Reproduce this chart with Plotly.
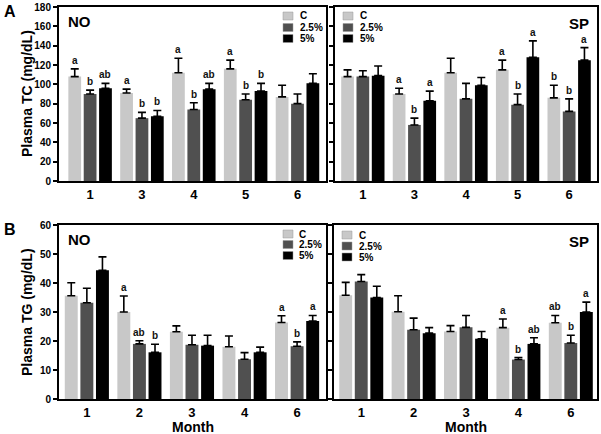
import plotly.graph_objects as go

W, H = 601, 434

# ---------------- data ----------------
groups = ["C", "2.5%", "5%"]
colors = ["#c8c8c8", "#505050", "#000000"]

months_tc = ["1", "3", "4", "5", "6"]
months_tg = ["1", "2", "3", "4", "6"]

# Plasma TC, NO
tc_no_c = [108, 91, 112, 116, 87]
tc_no_25 = [90, 65, 74, 84, 80]
tc_no_5 = [96, 67, 95, 93, 101]
tc_no_c_err = [8, 4, 15, 9, 12]
tc_no_25_err = [4, 6, 7, 6, 10]
tc_no_5_err = [5, 6, 6, 8, 10]
tc_no_c_let = ["a", "a", "a", "a", ""]
tc_no_25_let = ["b", "b", "b", "b", ""]
tc_no_5_let = ["ab", "b", "ab", "b", ""]

# Plasma TC, SP
tc_sp_c = [108, 90, 112, 115, 86]
tc_sp_25 = [108, 58, 85, 79, 72]
tc_sp_5 = [109, 83, 99, 128, 125]
tc_sp_c_err = [7, 6, 15, 10, 13]
tc_sp_25_err = [6, 7, 16, 11, 13]
tc_sp_5_err = [10, 10, 8, 17, 13]
tc_sp_c_let = ["", "a", "", "a", "b"]
tc_sp_25_let = ["", "b", "", "b", "b"]
tc_sp_5_let = ["", "a", "", "a", "a"]

# Plasma TG, NO
tg_no_c = [35.6, 30.0, 23.2, 18.0, 26.4]
tg_no_25 = [33.2, 19.0, 18.7, 13.7, 18.2]
tg_no_5 = [44.4, 16.1, 18.4, 16.1, 26.9]
tg_no_c_err = [4.5, 5.5, 2.0, 3.7, 2.3]
tg_no_25_err = [5.0, 1.1, 3.3, 2.3, 1.5]
tg_no_5_err = [4.6, 2.8, 3.6, 1.8, 1.9]
tg_no_c_let = ["", "a", "", "", "a"]
tg_no_25_let = ["", "ab", "", "", "b"]
tg_no_5_let = ["", "b", "", "", "a"]

# Plasma TG, SP
tg_sp_c = [35.8, 30.1, 23.3, 24.6, 26.3]
tg_sp_25 = [40.5, 23.9, 24.7, 13.6, 19.3]
tg_sp_5 = [35.0, 22.7, 20.8, 19.0, 30.0]
tg_sp_c_err = [4.4, 5.5, 2.0, 3.0, 2.5]
tg_sp_25_err = [2.4, 4.0, 4.1, 0.7, 2.7]
tg_sp_5_err = [3.9, 1.9, 2.5, 2.1, 3.4]
tg_sp_c_let = ["", "", "", "a", "ab"]
tg_sp_25_let = ["", "", "", "b", "b"]
tg_sp_5_let = ["", "", "", "ab", "a"]

FONT = "Arial, Liberation Sans, sans-serif"
BARGAP = 0.11
BARGROUPGAP = 0.17


def px(x):
    return x / W


def py(y):
    return 1 - y / H


panels = [
    dict(ax="", months=months_tc,
         vals=[tc_no_c, tc_no_25, tc_no_5], errs=[tc_no_c_err, tc_no_25_err, tc_no_5_err],
         lets=[tc_no_c_let, tc_no_25_let, tc_no_5_let], ymax=180, dtick=20,
         xd=(59, 326), yd=(7, 181), xr=[-0.6, 4.55], name="NO", showy=True,
         ytitle="Plasma TC (mg/dL)", xtitle="",
         leg=dict(bx=283, tx=298, ys=[16, 27.5, 38.5])),
    dict(ax="2", months=months_tc,
         vals=[tc_sp_c, tc_sp_25, tc_sp_5], errs=[tc_sp_c_err, tc_sp_25_err, tc_sp_5_err],
         lets=[tc_sp_c_let, tc_sp_25_let, tc_sp_5_let], ymax=180, dtick=20,
         xd=(335, 597), yd=(7, 181), xr=[-0.54, 4.54], name="SP", showy=False,
         ytitle="", xtitle="",
         leg=dict(bx=343, tx=358, ys=[16, 27.5, 38.5])),
    dict(ax="3", months=months_tg,
         vals=[tg_no_c, tg_no_25, tg_no_5], errs=[tg_no_c_err, tg_no_25_err, tg_no_5_err],
         lets=[tg_no_c_let, tg_no_25_let, tg_no_5_let], ymax=60, dtick=10,
         xd=(59, 326), yd=(225, 399), xr=[-0.53, 4.55], name="NO", showy=True,
         ytitle="Plasma TG (mg/dL)", xtitle="Month",
         leg=dict(bx=283, tx=297, ys=[234, 244.5, 255.5])),
    dict(ax="4", months=months_tg,
         vals=[tg_sp_c, tg_sp_25, tg_sp_5], errs=[tg_sp_c_err, tg_sp_25_err, tg_sp_5_err],
         lets=[tg_sp_c_let, tg_sp_25_let, tg_sp_5_let], ymax=60, dtick=10,
         xd=(334, 597), yd=(225, 399), xr=[-0.52, 4.5], name="SP", showy=False,
         ytitle="", xtitle="Month",
         leg=dict(bx=342, tx=357, ys=[235, 246, 257])),
]

fig = go.Figure()
annotations = []
shapes = []
layout = {}
slot = (1 - BARGAP) / 3

for p in panels:
    a = p["ax"]
    xs = list(range(len(p["months"])))
    for gi, g in enumerate(groups):
        fig.add_trace(go.Bar(
            x=xs, y=p["vals"][gi], name=g, showlegend=False,
            marker=dict(color=colors[gi], line=dict(width=0)),
            error_y=dict(type="data", symmetric=False, array=p["errs"][gi],
                         arrayminus=[0] * len(xs), color="black",
                         thickness=1.6, width=4),
            xaxis="x" + a, yaxis="y" + a,
        ))
        for i, lt in enumerate(p["lets"][gi]):
            if lt:
                annotations.append(dict(
                    x=xs[i] + (gi - 1) * slot, y=p["vals"][gi][i] + p["errs"][gi][i],
                    xref="x" + a, yref="y" + a, text=lt, showarrow=False,
                    yanchor="bottom", yshift=1,
                    font=dict(family=FONT, size=10, color="#111", weight="bold")))
    lg = p["leg"]
    for gi, g in enumerate(groups):
        yc = lg["ys"][gi]
        shapes.append(dict(type="rect", xref="paper", yref="paper",
                           x0=px(lg["bx"]), x1=px(lg["bx"] + 10),
                           y0=py(yc + 4), y1=py(yc - 4),
                           fillcolor=colors[gi], line=dict(width=0.5, color="#999")))
        annotations.append(dict(x=px(lg["tx"]), y=py(yc), xref="paper", yref="paper",
                                text=g, showarrow=False, xanchor="left", yanchor="middle",
                                font=dict(family=FONT, size=10, color="black", weight="bold")))
    if p["name"] == "NO":
        annotations.append(dict(x=px(p["xd"][0] + 7), y=py(p["yd"][0] + 4), xref="paper",
                                yref="paper", text="NO", showarrow=False, xanchor="left",
                                yanchor="top",
                                font=dict(family=FONT, size=15, color="black", weight="bold")))
    else:
        annotations.append(dict(x=px(p["xd"][1] - 6), y=py(p["yd"][0] + 6), xref="paper",
                                yref="paper", text="SP", showarrow=False, xanchor="right",
                                yanchor="top",
                                font=dict(family=FONT, size=15, color="black", weight="bold")))
    # axis titles placed as annotations for precise positioning
    if p["ytitle"]:
        annotations.append(dict(x=px(27), y=py((p["yd"][0] + p["yd"][1]) / 2),
                                xref="paper", yref="paper", text=p["ytitle"],
                                textangle=-90, showarrow=False,
                                xanchor="center", yanchor="middle",
                                font=dict(family=FONT, size=14, color="black", weight="bold")))
    if p["xtitle"]:
        annotations.append(dict(x=px((p["xd"][0] + p["xd"][1]) / 2), y=py(427),
                                xref="paper", yref="paper", text=p["xtitle"],
                                showarrow=False, xanchor="center", yanchor="middle",
                                font=dict(family=FONT, size=14, color="black", weight="bold")))

    layout["xaxis" + a] = dict(
        domain=[px(p["xd"][0]), px(p["xd"][1])], anchor="y" + a,
        range=p["xr"], tickvals=xs, ticktext=p["months"], ticks="",
        showline=True, linewidth=2, linecolor="black", mirror=True,
        showgrid=False, zeroline=False, automargin=False,
        tickfont=dict(family=FONT, size=13, color="black", weight="bold"),
    )
    layout["yaxis" + a] = dict(
        domain=[py(p["yd"][1]), py(p["yd"][0])], anchor="x" + a,
        range=[0, p["ymax"]], dtick=p["dtick"], ticks="outside", ticklen=4,
        tickwidth=1.5, tickcolor="black", showticklabels=p["showy"],
        showline=True, linewidth=2, linecolor="black", mirror=True,
        showgrid=False, zeroline=False, automargin=False,
        tickfont=dict(family=FONT, size=10, color="black", weight="bold"),
    )

annotations.append(dict(x=px(2), y=py(1), xref="paper", yref="paper", text="A",
                        showarrow=False, xanchor="left", yanchor="top",
                        font=dict(family=FONT, size=16, color="black", weight="bold")))
annotations.append(dict(x=px(2), y=py(219), xref="paper", yref="paper", text="B",
                        showarrow=False, xanchor="left", yanchor="top",
                        font=dict(family=FONT, size=16, color="black", weight="bold")))

fig.update_layout(
    width=W, height=H, margin=dict(l=0, r=0, t=0, b=0, autoexpand=False),
    paper_bgcolor="white", plot_bgcolor="white",
    barmode="group", bargap=BARGAP, bargroupgap=BARGROUPGAP,
    annotations=annotations, shapes=shapes, showlegend=False,
    font=dict(family=FONT, color="black"),
    **layout,
)

fig.write_html("out.html", config={"displayModeBar": False},
               post_script="document.body.style.margin='0';document.body.style.overflow='hidden';")
